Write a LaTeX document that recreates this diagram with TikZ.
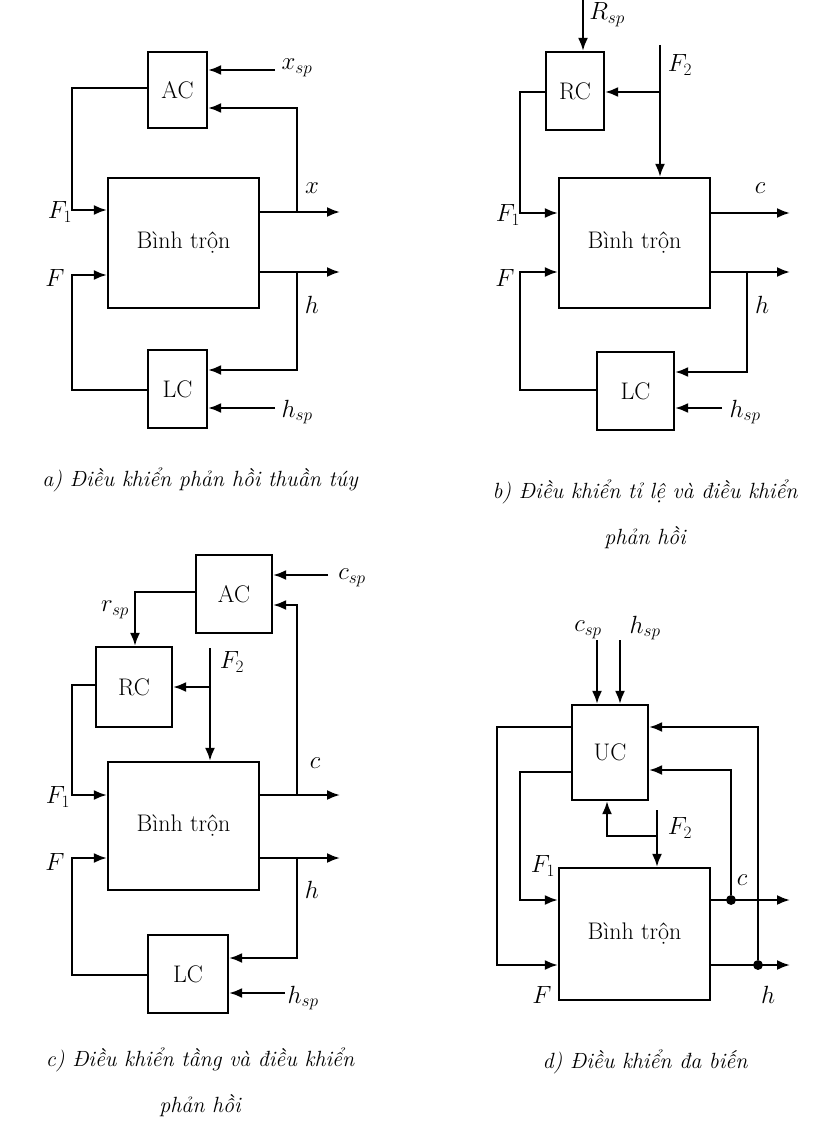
\documentclass[tikz,border=0pt]{standalone}
\usepackage{fontspec}
\usetikzlibrary{arrows.meta}
\tikzset{
  blk/.style={draw, line width=2.2pt, inner sep=0pt, font=\fontsize{24}{28}\selectfont},
  arr/.style={line width=2.2pt, -{Latex[length=13pt,width=10pt]}},
  lbl/.style={font=\fontsize{24}{28}\selectfont},
  captxt/.style={font=\fontsize{22}{26}\selectfont\itshape, align=center},
  dot/.style={circle, fill, inner sep=3.5pt}
}
\begin{document}
\begin{tikzpicture}[x=1pt, y=-1pt]
    \useasboundingbox (0,0) rectangle (816,1123);

    % a) feedback
    \node [blk, minimum width=59pt, minimum height=76pt] (AC1) at (177.5,90) {AC};
    \node [blk, minimum width=59pt, minimum height=78pt] (LC1) at (177.5,389) {LC};
    \node [blk, minimum width=151pt, minimum height=130pt] (T1) at (183.5,243) {Bình trộn};
    \coordinate (xsp1) at (275,70);  \coordinate (hsp1) at (275,408);
    \coordinate (xo1) at (340,212);  \coordinate (ho1) at (340,272);
    \draw [arr] (xsp1) -- (xsp1 -| AC1.east);
    \draw [arr] (hsp1) -- (hsp1 -| LC1.east);
    \draw [arr] (T1.east |- xo1) -- (xo1);
    \draw [arr] (T1.east |- ho1) -- (ho1);
    \draw [arr] (297,212) -- (297,108) -- (AC1.east |- 0,108);
    \draw [arr] (297,272) -- (297,370) -- (LC1.east |- 0,370);
    \draw [arr] (AC1.west |- 0,88) -- (72,88) -- (72,210) -- (T1.west |- 0,210);
    \draw [arr] (LC1.west |- 0,390) -- (72,390) -- (72,275) -- (T1.west |- 0,275);
    \node [lbl] (xa) at (312,188) {$x$};
    \node [lbl] (ha) at (312,305) {$h$};
    \node [lbl] (xspa) at (297,68) {$x_{sp}$};
    \node [lbl] (hspa) at (297,412) {$h_{sp}$};
    \node [lbl] (F1a) at (60,212) {$F_1$};
    \node [lbl] (Fa) at (55,278) {$F$};
    \node [captxt] (capa) at (200,480) {a) Điều khiển phản hồi thuần túy};

    % b) ratio + feedback
    \node [blk, minimum width=58pt, minimum height=78pt] (RC2) at (575,91) {RC};
    \node [blk, minimum width=77pt, minimum height=78pt] (LC2) at (635.5,391) {LC};
    \node [blk, minimum width=151pt, minimum height=130pt] (T2) at (634.5,243) {Bình trộn};
    \coordinate (Rsp2) at (583,0);  \coordinate (F22) at (660,45);
    \coordinate (co2) at (790,213); \coordinate (ho2) at (790,272); \coordinate (hsp2) at (722,408);
    \draw [arr] (Rsp2) -- (RC2.north -| Rsp2);
    \draw [arr] (F22) -- (T2.north -| F22);
    \draw [arr] (660,92) -- (RC2.east |- 0,92);
    \draw [arr] (RC2.west |- 0,92) -- (520,92) -- (520,213) -- (T2.west |- 0,213);
    \draw [arr] (T2.east |- co2) -- (co2);
    \draw [arr] (T2.east |- ho2) -- (ho2);
    \draw [arr] (747,272) -- (747,372) -- (LC2.east |- 0,372);
    \draw [arr] (hsp2) -- (hsp2 -| LC2.east);
    \draw [arr] (LC2.west |- 0,390) -- (520,390) -- (520,272) -- (T2.west |- 0,272);
    \node [lbl] (Rspb) at (607,15) {$R_{sp}$};
    \node [lbl] (F2b) at (680,65) {$F_2$};
    \node [lbl] (F1b) at (508,215) {$F_1$};
    \node [lbl] (Fb) at (505,278) {$F$};
    \node [lbl] (cb) at (760,188) {$c$};
    \node [lbl] (hb) at (762,305) {$h$};
    \node [lbl] (hspb) at (745,412) {$h_{sp}$};
    \node [captxt] (capb) at (645,514) {b) Điều khiển tỉ lệ và điều khiển\\[20pt] phản hồi};

    % c) cascade + feedback
    \node [blk, minimum width=76pt, minimum height=78pt] (AC3) at (234,594) {AC};
    \node [blk, minimum width=76pt, minimum height=80pt] (RC3) at (134,687) {RC};
    \node [blk, minimum width=80pt, minimum height=78pt] (LC3) at (188,974) {LC};
    \node [blk, minimum width=151pt, minimum height=128pt] (T3) at (183.5,826) {Bình trộn};
    \coordinate (csp3) at (328,575); \coordinate (hsp3) at (285,993);
    \coordinate (co3) at (340,795);  \coordinate (ho3) at (340,858);
    \draw [arr] (csp3) -- (csp3 -| AC3.east);
    \draw [arr] (AC3.west |- 0,592) -- (135,592) -- (RC3.north -| 135,0);
    \draw [arr] (210,648) -- (T3.north -| 210,0);
    \draw [arr] (210,687) -- (RC3.east |- 0,687);
    \draw [arr] (RC3.west |- 0,685) -- (72,685) -- (72,795) -- (T3.west |- 0,795);
    \draw [arr] (T3.east |- co3) -- (co3);
    \draw [arr] (T3.east |- ho3) -- (ho3);
    \draw [arr] (297,795) -- (297,605) -- (AC3.east |- 0,605);
    \draw [arr] (297,858) -- (297,958) -- (LC3.east |- 0,958);
    \draw [arr] (hsp3) -- (hsp3 -| LC3.east);
    \draw [arr] (LC3.west |- 0,975) -- (72,975) -- (72,858) -- (T3.west |- 0,858);
    \node [lbl] (cspc) at (352,578) {$c_{sp}$};
    \node [lbl] (rspc) at (115,610) {$r_{sp}$};
    \node [lbl] (F2c) at (232,662) {$F_2$};
    \node [lbl] (F1c) at (58,797) {$F_1$};
    \node [lbl] (Fc) at (55,862) {$F$};
    \node [lbl] (cc) at (315,763) {$c$};
    \node [lbl] (hc) at (312,890) {$h$};
    \node [lbl] (hspc) at (303,998) {$h_{sp}$};
    \node [captxt] (capc) at (200,1082) {c) Điều khiển tầng và điều khiển\\[20pt] phản hồi};

    % d) multivariable
    \node [blk, minimum width=76pt, minimum height=95pt] (UC4) at (610,752.5) {UC};
    \node [blk, minimum width=151pt, minimum height=132pt] (T4) at (634.5,934) {Bình trộn};
    \coordinate (csp4) at (597,640); \coordinate (hsp4) at (620,640);
    \coordinate (co4) at (790,900);  \coordinate (ho4) at (790,965);
    \node [dot] (dc) at (731,900) {};
    \node [dot] (dh) at (758,965) {};
    \draw [arr] (csp4) -- (UC4.north -| csp4);
    \draw [arr] (hsp4) -- (UC4.north -| hsp4);
    \draw [arr] (T4.east |- co4) -- (co4);
    \draw [arr] (T4.east |- ho4) -- (ho4);
    \draw [arr] (dc) -- (731,770) -- (UC4.east |- 0,770);
    \draw [arr] (dh) -- (758,727) -- (UC4.east |- 0,727);
    \draw [arr] (UC4.west |- 0,727) -- (497,727) -- (497,965) -- (T4.west |- 0,965);
    \draw [arr] (UC4.west |- 0,772) -- (520,772) -- (520,900) -- (T4.west |- 0,900);
    \draw [arr] (657,810) -- (T4.north -| 657,0);
    \draw [arr] (657,836) -- (607,836) -- (UC4.south -| 607,0);
    \node [lbl] (cspd) at (588,630) {$c_{sp}$};
    \node [lbl] (hspd) at (645,628) {$h_{sp}$};
    \node [lbl] (F2d) at (680,828) {$F_2$};
    \node [lbl] (F1d) at (543,866) {$F_1$};
    \node [lbl] (Fd) at (542,995) {$F$};
    \node [lbl] (cd) at (742,880) {$c$};
    \node [lbl] (hd) at (768,995) {$h$};
    \node [captxt] (capd) at (645,1062) {d) Điều khiển đa biến};
\end{tikzpicture}
\end{document}
